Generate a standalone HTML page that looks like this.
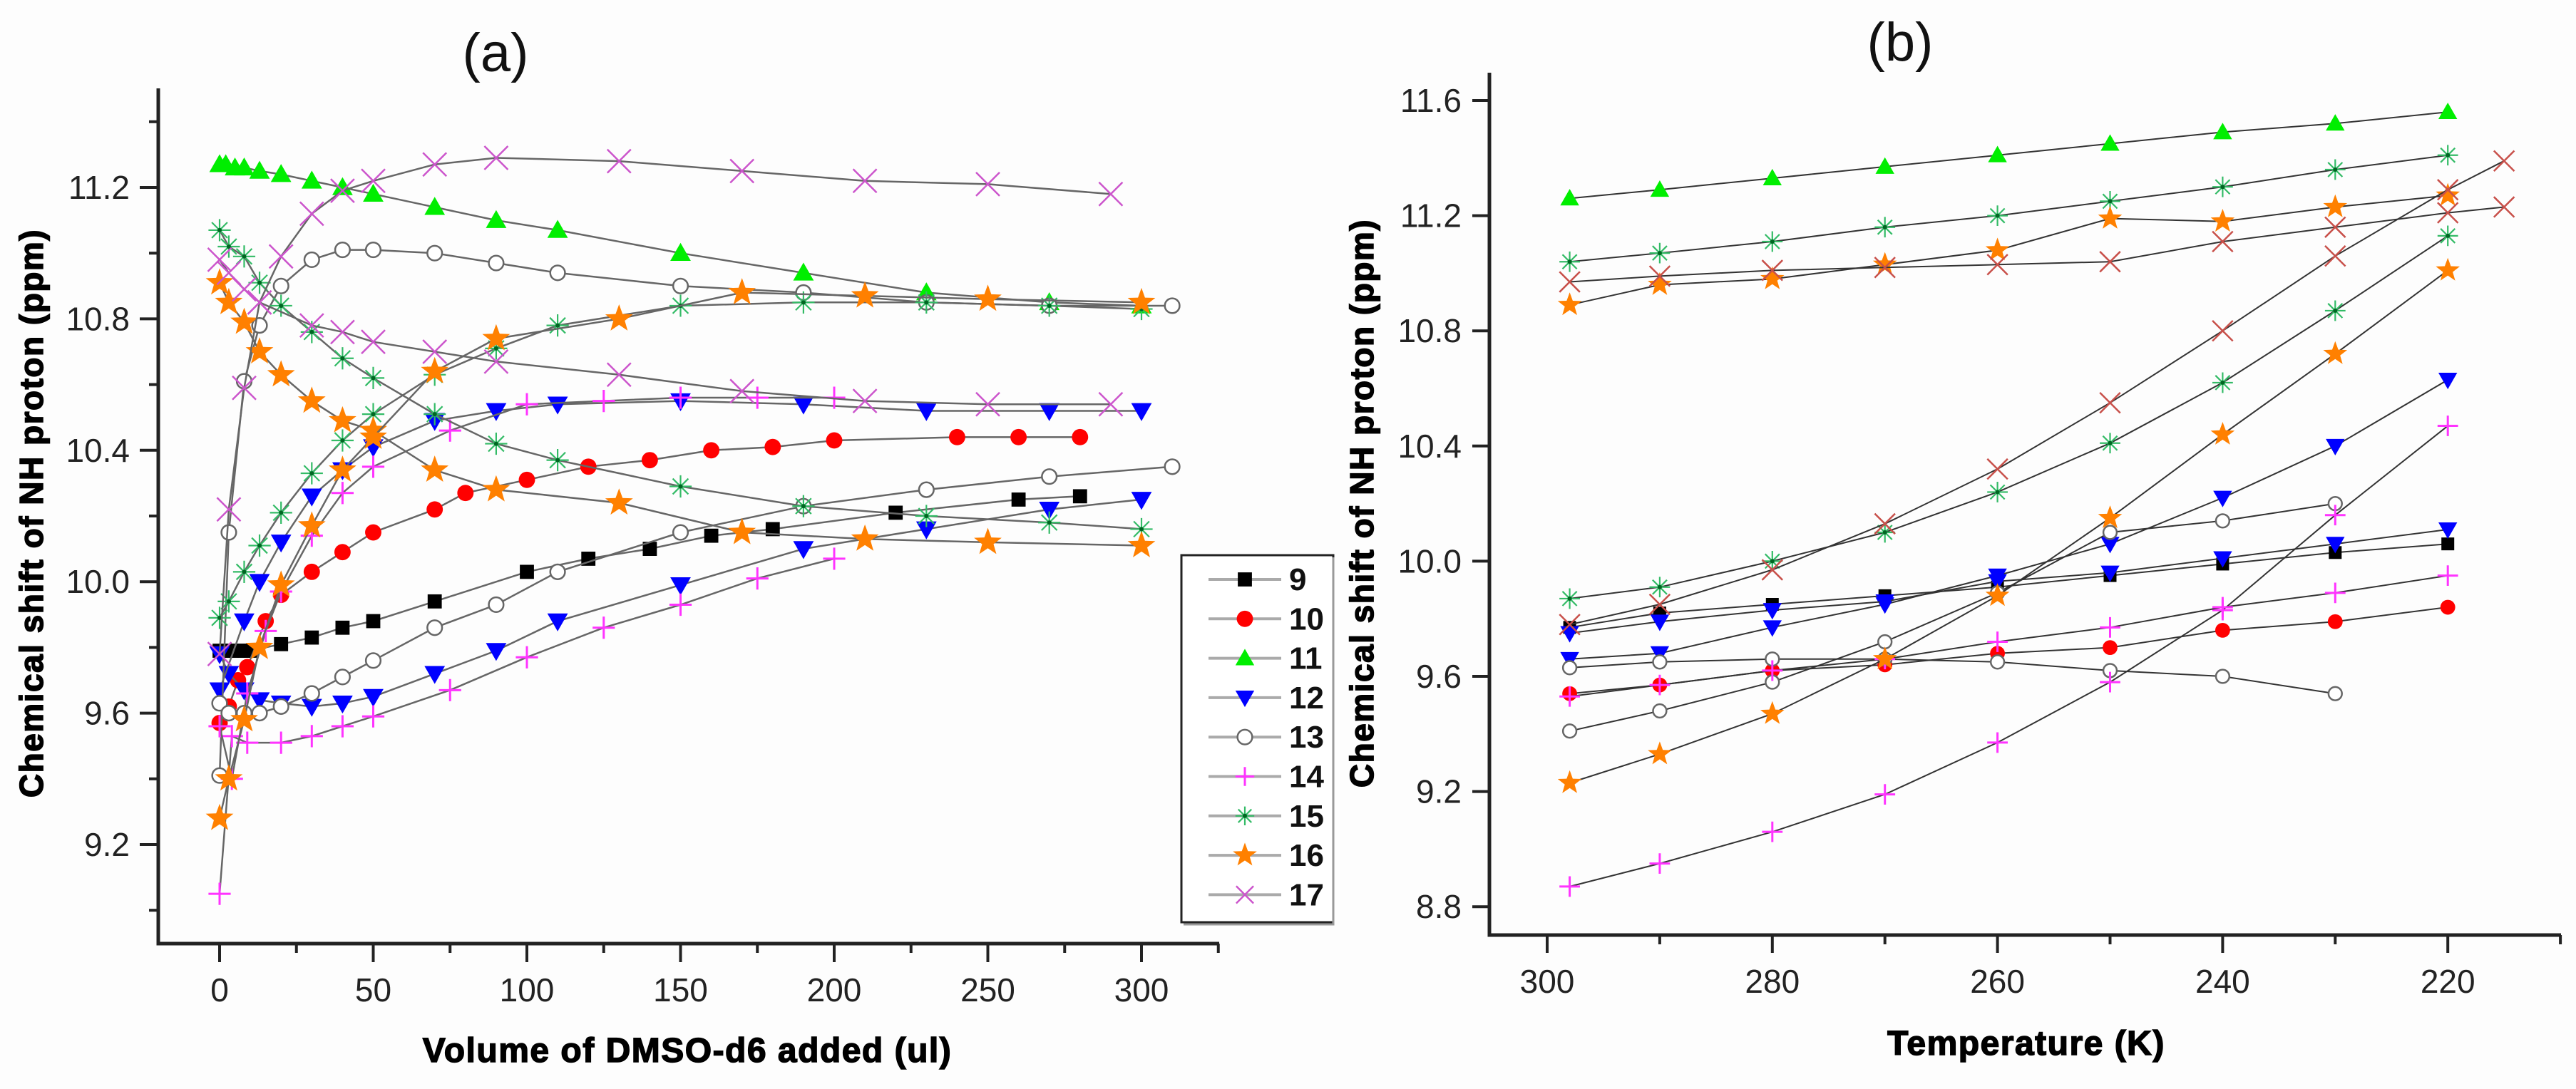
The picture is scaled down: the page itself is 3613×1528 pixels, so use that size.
<!DOCTYPE html>
<html><head><meta charset="utf-8">
<style>
html,body{margin:0;padding:0;background:#fdfdfd;}
svg{display:block;}
text{font-family:"Liberation Sans",Arial,sans-serif;}
</style></head>
<body>
<svg id="chart" width="3613" height="1528" viewBox="0 0 3613 1528" xmlns="http://www.w3.org/2000/svg">
<rect x="0" y="0" width="3613" height="1528" fill="#fdfdfd"/>
<g id="panelA"></g>
<g id="panelB"></g>
</svg>
<script>
// ---------- Panel (a) data: DMSO-d6 titration ----------
const aTicksX=[0,50,100,150,200,250,300];
const aTicksY=[9.2,9.6,10.0,10.4,10.8,11.2];
const a9x=[0,2,4,6,8,10,20,30,40,50,70,100,120,140,160,180,220,260,280];
const a9y=[9.79,9.79,9.79,9.79,9.79,9.79,9.81,9.83,9.86,9.88,9.94,10.03,10.07,10.10,10.14,10.16,10.21,10.25,10.26];
const a10x=[0,3,6,9,15,20,30,40,50,70,80,100,120,140,160,180,200,240,260,280];
const a10y=[9.57,9.62,9.70,9.74,9.88,9.96,10.03,10.09,10.15,10.22,10.27,10.31,10.35,10.37,10.40,10.41,10.43,10.44,10.44,10.44];
const a11x=[0,2,5,8,13,20,30,40,50,70,90,110,150,190,230,270,300];
const a11y=[11.27,11.27,11.26,11.26,11.25,11.24,11.22,11.20,11.18,11.14,11.10,11.07,11.00,10.94,10.88,10.85,10.84];
const a12ax=[0,3,8,13,20,30,40,50,70,90,110,150,190,230,270,300];
const a12ay=[9.78,9.72,9.67,9.64,9.63,9.62,9.63,9.65,9.72,9.79,9.88,9.99,10.10,10.16,10.22,10.25];
const a12bx=[0,8,13,20,30,40,50,70,90,110,150,190,230,270,300];
const a12by=[9.67,9.88,10.00,10.12,10.26,10.34,10.41,10.49,10.52,10.54,10.55,10.54,10.52,10.52,10.52];
const a13ax=[0,3,8,13,20,30,40,50,70,90,110,150,190,230,270,310];
const a13ay=[9.41,10.15,10.61,10.78,10.90,10.98,11.01,11.01,11.00,10.97,10.94,10.90,10.88,10.85,10.84,10.84];
const a13bx=[0,3,8,13,20,30,40,50,70,90,110,150,190,230,270,310];
const a13by=[9.63,9.60,9.60,9.60,9.62,9.66,9.71,9.76,9.86,9.93,10.03,10.15,10.23,10.28,10.32,10.35];
const a14ax=[0,4,9,20,30,40,50,75,100,125,150,175,200];
const a14ay=[9.05,9.53,9.51,9.51,9.53,9.56,9.59,9.67,9.77,9.86,9.93,10.01,10.07];
const a14bx=[0,4,9,15,20,30,40,50,75,100,125,150,175,200];
const a14by=[9.56,9.40,9.66,9.85,9.97,10.14,10.27,10.35,10.46,10.54,10.55,10.56,10.56,10.56];
const a15ax=[0,3,8,13,20,30,40,50,70,90,110,150,190,230,270,300];
const a15ay=[11.07,11.02,10.99,10.91,10.84,10.76,10.68,10.62,10.51,10.42,10.37,10.29,10.23,10.20,10.18,10.16];
const a15bx=[0,3,8,13,20,30,40,50,70,90,110,150,190,230,270,300];
const a15by=[9.89,9.94,10.03,10.11,10.21,10.33,10.43,10.51,10.63,10.71,10.78,10.84,10.85,10.85,10.84,10.83];
const a16ax=[0,3,8,13,20,30,40,50,70,90,130,170,210,250,300];
const a16ay=[10.91,10.85,10.79,10.70,10.63,10.55,10.49,10.46,10.34,10.28,10.24,10.15,10.13,10.12,10.11];
const a16bx=[0,3,8,13,20,30,40,50,70,90,130,170,210,250,300];
const a16by=[9.28,9.40,9.58,9.80,9.99,10.17,10.34,10.44,10.64,10.74,10.80,10.88,10.87,10.86,10.85];
const a17ax=[0,3,8,13,30,40,50,70,90,130,170,210,250,290];
const a17ay=[10.98,10.94,10.89,10.85,10.78,10.76,10.73,10.70,10.67,10.63,10.58,10.55,10.54,10.54];
const a17bx=[0,3,8,13,20,30,40,50,70,90,130,170,210,250,290];
const a17by=[9.78,10.22,10.59,10.85,10.99,11.12,11.19,11.22,11.27,11.29,11.28,11.25,11.22,11.21,11.18];

// ---------- Panel (b) data: temperature ----------
const bTicksX=[300,280,260,240,220];
const bTicksY=[8.8,9.2,9.6,10.0,10.4,10.8,11.2,11.6];
const bT=[298,290,280,270,260,250,240,230,220];
const bT17=[298,290,280,270,260,250,240,230,220,215];
const bT13=[298,290,280,270,260,250,240,230];
const b9y=[9.77,9.82,9.85,9.88,9.91,9.95,9.99,10.03,10.06];
const b10y=[9.54,9.57,9.62,9.64,9.68,9.70,9.76,9.79,9.84];
const b11y=[11.26,11.29,11.33,11.37,11.41,11.45,11.49,11.52,11.56];
const b12ay=[9.66,9.68,9.77,9.85,9.95,10.06,10.22,10.40,10.63];
const b12by=[9.75,9.79,9.83,9.86,9.93,9.96,10.01,10.06,10.11];
const b13ay=[9.63,9.65,9.66,9.66,9.65,9.62,9.60,9.54];
const b13by=[9.41,9.48,9.58,9.72,9.89,10.10,10.14,10.20];
const b14ay=[8.87,8.95,9.06,9.19,9.37,9.58,9.83,10.16,10.47];
const b14by=[9.53,9.57,9.62,9.66,9.72,9.77,9.84,9.89,9.95];
const b15ay=[11.04,11.07,11.11,11.16,11.20,11.25,11.30,11.36,11.41];
const b15by=[9.87,9.91,10.00,10.10,10.24,10.41,10.62,10.87,11.13];
const b16ay=[10.89,10.96,10.98,11.03,11.08,11.19,11.18,11.23,11.27];
const b16by=[9.23,9.33,9.47,9.66,9.88,10.15,10.44,10.72,11.01];
const b17ay=[10.97,10.99,11.01,11.02,11.03,11.04,11.11,11.16,11.21,11.23];
const b17by=[9.78,9.85,9.97,10.13,10.32,10.55,10.80,11.06,11.29,11.39];

const legendLabels=["9","10","11","12","13","14","15","16","17"];

const NS="http://www.w3.org/2000/svg";
function mk(tag,attrs,parent){const e=document.createElementNS(NS,tag);for(const k in attrs)e.setAttribute(k,attrs[k]);parent.appendChild(e);return e;}

const xa=u=>308+u*4.31;
const ya=v=>263+(11.2-v)*461;
const xb=T=>2170+(300-T)*15.79;
const yb=v=>141+(11.6-v)*404;

function marker(g,type,cx,cy,s){
 let e;
 if(type==="square"){e=mk("rect",{x:cx-s*0.45,y:cy-s*0.45,width:s*0.9,height:s*0.9,fill:"#000"},g);}
 else if(type==="circle"){e=mk("circle",{cx:cx,cy:cy,r:s*0.47,fill:"#fff",stroke:"#666","stroke-width":2.5},g);}
 else if(type==="red"){e=mk("circle",{cx:cx,cy:cy,r:s*0.52,fill:"#ff0000"},g);}
 else if(type==="tri"){e=mk("polygon",{points:`${cx},${cy-s*0.6} ${cx-s*0.6},${cy+s*0.45} ${cx+s*0.6},${cy+s*0.45}`,fill:"#00ee00"},g);}
 else if(type==="tridown"){e=mk("polygon",{points:`${cx},${cy+s*0.6} ${cx-s*0.6},${cy-s*0.45} ${cx+s*0.6},${cy-s*0.45}`,fill:"#0000ff"},g);}
 else if(type==="plus"){e=mk("path",{d:`M${cx-s*0.6},${cy}H${cx+s*0.6}M${cx},${cy-s*0.6}V${cy+s*0.6}`,stroke:"#ff33ff","stroke-width":3,fill:"none"},g);}
 else if(type==="aster"){e=mk("path",{d:`M${cx-s*0.6},${cy}H${cx+s*0.6}M${cx},${cy-s*0.6}V${cy+s*0.6}M${cx-s*0.42},${cy-s*0.42}L${cx+s*0.42},${cy+s*0.42}M${cx-s*0.42},${cy+s*0.42}L${cx+s*0.42},${cy-s*0.42}`,stroke:"#33bb66","stroke-width":2.2,fill:"none"},g);mk("circle",{cx:cx,cy:cy,r:3,fill:"#006622"},g);}
 else if(type==="star"){let p=[];for(let i=0;i<10;i++){const r=i%2?s*0.28:s*0.68;const a=-Math.PI/2+i*Math.PI/5;p.push((cx+r*Math.cos(a)).toFixed(1)+","+(cy+r*Math.sin(a)).toFixed(1));}e=mk("polygon",{points:p.join(" "),fill:"#ff8000"},g);}
 else if(type==="x"||type==="xb"){const col=type==="x"?"#cc55cc":"#c8504a";e=mk("path",{d:`M${cx-s*0.55},${cy-s*0.55}L${cx+s*0.55},${cy+s*0.55}M${cx-s*0.55},${cy+s*0.55}L${cx+s*0.55},${cy-s*0.55}`,stroke:col,"stroke-width":2.5,fill:"none"},g);}
 return e;
}
function series(parent,name,xs,ys,fx,fy,type,s,lineCol,lw){
 const g=mk("g",{},parent);
 
 
 const d=xs.map((x,i)=>(i?"L":"M")+fx(x).toFixed(1)+","+fy(ys[i]).toFixed(1)).join("");
 const ln=mk("path",{d:d,fill:"none",stroke:lineCol,"stroke-width":lw},g);
 
 
 xs.forEach((x,i)=>{const m=marker(g,type,fx(x),fy(ys[i]),s);
  
  });
}
function txt(parent,name,x,y,str,attrs){
 const t=mk("text",Object.assign({x:x,y:y},attrs),parent);t.textContent=str;
 
 
 return t;
}
const TITLE={"font-weight":"bold","text-anchor":"middle",fill:"#000",stroke:"#000","stroke-width":1.5,"letter-spacing":1.5};

// ----- Panel A -----
const A=document.getElementById("panelA");
txt(A,"panel-a-title",695,100,"(a)",{"font-size":76,"text-anchor":"middle",fill:"#111"});
const aAxis=mk("path",{d:`M222,124V1324H1710`,fill:"none",stroke:"#222","stroke-width":5},A);


aTicksY.forEach(v=>{mk("line",{x1:196,x2:222,y1:ya(v),y2:ya(v),stroke:"#222","stroke-width":4},A);
 txt(A,"y-tick-label-a",182,ya(v)+16,v.toFixed(1),{"font-size":46,"text-anchor":"end",fill:"#222"});});
[9.0,9.4,9.8,10.2,10.6,11.0,11.4].forEach(v=>mk("line",{x1:209,x2:222,y1:ya(v),y2:ya(v),stroke:"#222","stroke-width":4},A));
aTicksX.forEach(u=>{mk("line",{x1:xa(u),x2:xa(u),y1:1324,y2:1350,stroke:"#222","stroke-width":4},A);
 txt(A,"x-tick-label-a",xa(u),1405,String(u),{"font-size":46,"text-anchor":"middle",fill:"#222"});});
[25,75,125,175,225,275,325].forEach(u=>mk("line",{x1:xa(u),x2:xa(u),y1:1324,y2:1337,stroke:"#222","stroke-width":4},A));
txt(A,"x-axis-title-a",964,1490,"Volume of DMSO-d6 added (ul)",Object.assign({"font-size":48},TITLE));
txt(A,"y-axis-title-a",0,0,"Chemical shift of NH proton (ppm)",Object.assign({"font-size":46,transform:"translate(60,720) rotate(-90)"},TITLE));
const LC="#666";
series(A,"series-a-9",a9x,a9y,xa,ya,"square",22,LC,2.5);
series(A,"series-a-10",a10x,a10y,xa,ya,"red",22,LC,2.5);
series(A,"series-a-11",a11x,a11y,xa,ya,"tri",24,LC,2.5);
series(A,"series-a-12a",a12ax,a12ay,xa,ya,"tridown",24,LC,2.5);
series(A,"series-a-12b",a12bx,a12by,xa,ya,"tridown",24,LC,2.5);
series(A,"series-a-13a",a13ax,a13ay,xa,ya,"circle",22,LC,2.5);
series(A,"series-a-13b",a13bx,a13by,xa,ya,"circle",22,LC,2.5);
series(A,"series-a-14a",a14ax,a14ay,xa,ya,"plus",26,LC,2.5);
series(A,"series-a-14b",a14bx,a14by,xa,ya,"plus",26,LC,2.5);
series(A,"series-a-15a",a15ax,a15ay,xa,ya,"aster",26,LC,2.5);
series(A,"series-a-15b",a15bx,a15by,xa,ya,"aster",26,LC,2.5);
series(A,"series-a-16a",a16ax,a16ay,xa,ya,"star",30,LC,2.5);
series(A,"series-a-16b",a16bx,a16by,xa,ya,"star",30,LC,2.5);
series(A,"series-a-17a",a17ax,a17ay,xa,ya,"x",30,LC,2.5);
series(A,"series-a-17b",a17bx,a17by,xa,ya,"x",30,LC,2.5);

// legend
const L=mk("g",{},A);


mk("rect",{x:1657,y:779,width:213,height:515,fill:"#fff",stroke:"#222","stroke-width":3},L);
mk("path",{d:"M1870,782V1297H1660",fill:"none",stroke:"#999","stroke-width":3},L);
const lTypes=["square","red","tri","tridown","circle","plus","aster","star","x"];
legendLabels.forEach((lab,i)=>{
 const y=813+i*55.3;
 const e=mk("g",{},L);
 
 
 mk("line",{x1:1695,x2:1797,y1:y,y2:y,stroke:"#aaa","stroke-width":4},e);
 marker(e,lTypes[i],1746,y,lTypes[i]==="star"?26:22);
 const t=mk("text",{x:1808,y:y+15,"font-size":44,"font-weight":"bold","font-family":"Liberation Serif, serif",fill:"#111"},e);
 t.textContent=lab;
});

// ----- Panel B -----
const B=document.getElementById("panelB");
txt(B,"panel-b-title",2665,85,"(b)",{"font-size":76,"text-anchor":"middle",fill:"#111"});
const bAxis=mk("path",{d:`M2089,102V1312H3592`,fill:"none",stroke:"#222","stroke-width":5},B);


bTicksY.forEach(v=>{mk("line",{x1:2065,x2:2089,y1:yb(v),y2:yb(v),stroke:"#222","stroke-width":4},B);
 txt(B,"y-tick-label-b",2050,yb(v)+16,v.toFixed(1),{"font-size":46,"text-anchor":"end",fill:"#222"});});
bTicksX.forEach(T=>{mk("line",{x1:xb(T),x2:xb(T),y1:1312,y2:1337,stroke:"#222","stroke-width":4},B);
 txt(B,"x-tick-label-b",xb(T),1393,String(T),{"font-size":46,"text-anchor":"middle",fill:"#222"});});
[290,270,250,230,210].forEach(T=>mk("line",{x1:xb(T),x2:xb(T),y1:1312,y2:1325,stroke:"#222","stroke-width":4},B));
txt(B,"x-axis-title-b",2842,1480,"Temperature (K)",Object.assign({"font-size":48},TITLE));
txt(B,"y-axis-title-b",0,0,"Chemical shift of NH proton (ppm)",Object.assign({"font-size":46,transform:"translate(1926,706) rotate(-90)"},TITLE));
const LB="#333";
series(B,"series-b-9",bT,b9y,xb,yb,"square",20,LB,2);
series(B,"series-b-10",bT,b10y,xb,yb,"red",20,LB,2);
series(B,"series-b-11",bT,b11y,xb,yb,"tri",22,LB,2);
series(B,"series-b-12a",bT,b12ay,xb,yb,"tridown",22,LB,2);
series(B,"series-b-12b",bT,b12by,xb,yb,"tridown",22,LB,2);
series(B,"series-b-13a",bT13,b13ay,xb,yb,"circle",20,LB,2);
series(B,"series-b-13b",bT13,b13by,xb,yb,"circle",20,LB,2);
series(B,"series-b-14a",bT,b14ay,xb,yb,"plus",24,LB,2);
series(B,"series-b-14b",bT,b14by,xb,yb,"plus",24,LB,2);
series(B,"series-b-15a",bT,b15ay,xb,yb,"aster",24,LB,2);
series(B,"series-b-15b",bT,b15by,xb,yb,"aster",24,LB,2);
series(B,"series-b-16a",bT,b16ay,xb,yb,"star",26,LB,2);
series(B,"series-b-16b",bT,b16by,xb,yb,"star",26,LB,2);
series(B,"series-b-17a",bT17,b17ay,xb,yb,"xb",26,LB,2);
series(B,"series-b-17b",bT17,b17by,xb,yb,"xb",26,LB,2);
</script>
</body></html>
